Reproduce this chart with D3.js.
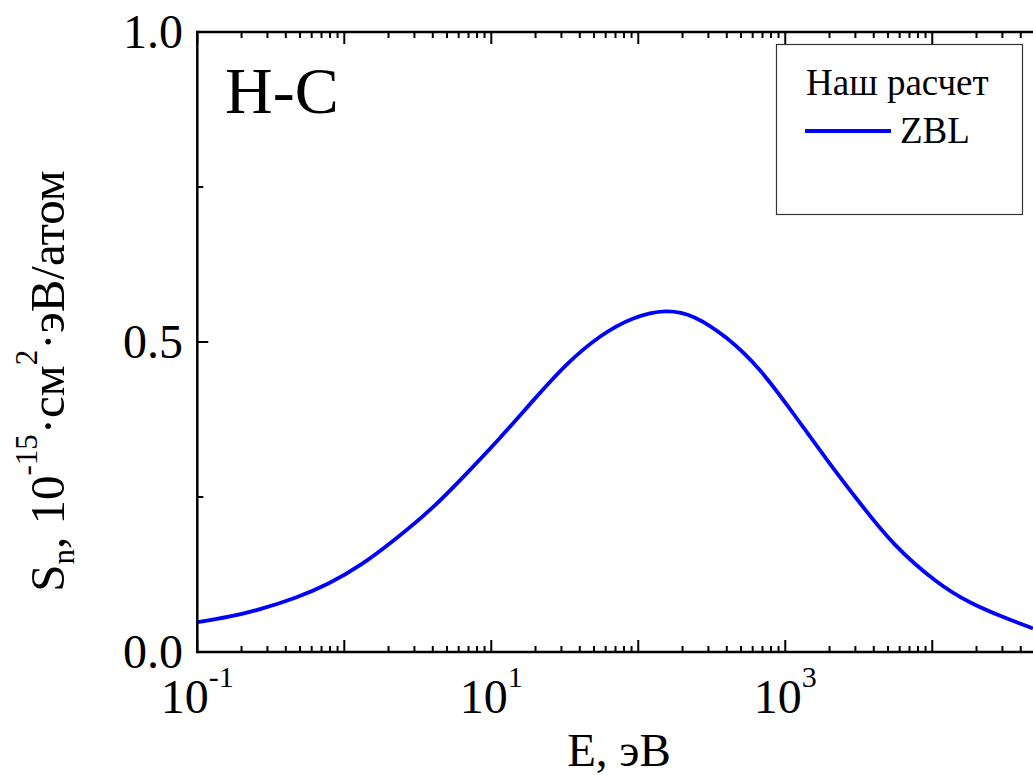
<!DOCTYPE html>
<html>
<head>
<meta charset="utf-8">
<script src="https://cdn.jsdelivr.net/npm/d3@7"></script>
<style>
  html, body { margin: 0; padding: 0; background: #fff; }
  svg { display: block; }
  text { font-family: "Liberation Serif", "Times New Roman", serif; fill: #000; }
</style>
</head>
<body>
<svg id="chart" width="1033" height="775"></svg>
<script>
// Nuclear stopping cross-section S_n(E) for H on C (ZBL potential)
const energy = [0.1, 0.163, 0.274, 0.465, 0.778, 1.31, 2.21, 4.03, 6.8, 11.5, 19.3, 32.6, 54.8, 92.5, 156, 237, 399, 673, 1133, 1912, 3220, 5430, 10720, 18040, 30400, 48400];
const sn     = [0.0480, 0.056, 0.0693, 0.0866, 0.109, 0.140, 0.181, 0.232, 0.288, 0.345, 0.406, 0.466, 0.511, 0.541, 0.553, 0.544, 0.509, 0.458, 0.385, 0.310, 0.240, 0.172, 0.111, 0.0785, 0.056, 0.038];

const xDomain = [0.1, 5e4];
const yDomain = [0, 1];
const xMajorTicks = [0.1, 1, 10, 100, 1000, 10000];
const xLabelledTicks = [{ v: 0.1, exp: "-1" }, { v: 10, exp: "1" }, { v: 1000, exp: "3" }];
const yMajorTicks = [0, 0.5, 1.0];
const yMinorTicks = [0.25, 0.75];
const yTickLabels = ["0.0", "0.5", "1.0"];

const legendTitle = "Наш расчет";
const seriesName = "ZBL";
const panelLabel = "H-C";

const svg = d3.select("#chart");
const plotL = 197.3, plotR = 1035, plotT = 32, plotB = 652;

const x = d3.scaleLog().domain(xDomain).range([plotL, plotR]);
const y = d3.scaleLinear().domain(yDomain).range([plotB, plotT]);

// minor ticks 2..9 in every decade
const xMinorTicks = [];
for (let e = -1; e <= 4; e++) {
  for (let m = 2; m <= 9; m++) {
    const v = m * Math.pow(10, e);
    if (v < xDomain[1]) xMinorTicks.push(v);
  }
}

const axisColor = "#000";
const axisW = 2.5;

// smooth curve through the sampled values
const line = d3.line()
  .x((d, i) => x(energy[i]))
  .y((d) => y(d))
  .curve(d3.curveBasis);

svg.append("path")
  .datum(sn)
  .attr("d", line)
  .attr("fill", "none")
  .attr("stroke", "#0000ff")
  .attr("stroke-width", 3.8);

// frame
const frame = svg.append("g");
frame.append("line").attr("x1", plotL).attr("x2", plotR).attr("y1", plotB).attr("y2", plotB)
  .attr("stroke", axisColor).attr("stroke-width", axisW);
frame.append("line").attr("x1", plotL).attr("x2", plotR).attr("y1", plotT).attr("y2", plotT)
  .attr("stroke", axisColor).attr("stroke-width", axisW);
frame.append("line").attr("x1", plotL).attr("x2", plotL).attr("y1", plotT - axisW / 2).attr("y2", plotB + axisW / 2)
  .attr("stroke", axisColor).attr("stroke-width", axisW);
frame.append("line").attr("x1", plotR).attr("x2", plotR).attr("y1", plotT - axisW / 2).attr("y2", plotB + axisW / 2)
  .attr("stroke", axisColor).attr("stroke-width", axisW);

// inward ticks on bottom and top
function xTicks(vals, len) {
  [plotB, plotT].forEach((y0) => {
    const dir = y0 === plotB ? -1 : 1;
    frame.selectAll(null).data(vals).enter().append("line")
      .attr("x1", (d) => x(d)).attr("x2", (d) => x(d))
      .attr("y1", y0).attr("y2", y0 + dir * len)
      .attr("stroke", axisColor).attr("stroke-width", 2);
  });
}
xTicks(xMajorTicks, 12);
xTicks(xMinorTicks, 6);

// inward ticks on left
frame.selectAll(null).data(yMajorTicks).enter().append("line")
  .attr("x1", plotL).attr("x2", plotL + 11)
  .attr("y1", (d) => y(d)).attr("y2", (d) => y(d))
  .attr("stroke", axisColor).attr("stroke-width", 2);
frame.selectAll(null).data(yMinorTicks).enter().append("line")
  .attr("x1", plotL).attr("x2", plotL + 6)
  .attr("y1", (d) => y(d)).attr("y2", (d) => y(d))
  .attr("stroke", axisColor).attr("stroke-width", 2);

// y tick labels
svg.selectAll(null).data(yMajorTicks).enter().append("text")
  .attr("x", 183)
  .attr("y", (d) => y(d) + 16)
  .attr("text-anchor", "end")
  .attr("font-size", 48)
  .text((d, i) => yTickLabels[i]);

// x tick labels (powers of ten)
const xl = svg.selectAll(null).data(xLabelledTicks).enter().append("text")
  .attr("x", (d) => x(d.v))
  .attr("y", 713)
  .attr("text-anchor", "middle")
  .attr("font-size", 48);
xl.append("tspan").text("10");
xl.append("tspan").attr("font-size", 30).attr("dy", -26).text((d) => d.exp);

// axis titles
svg.append("text")
  .attr("x", 619).attr("y", 766)
  .attr("text-anchor", "middle")
  .attr("font-size", 47)
  .text("E, эВ");

const yt = svg.append("text")
  .attr("transform", "translate(64,381) rotate(-90)")
  .attr("text-anchor", "middle")
  .attr("font-size", 49);
yt.append("tspan").text("S");
yt.append("tspan").attr("font-size", 31).attr("dy", 10).text("n");
yt.append("tspan").attr("dy", -10).text(", 10");
yt.append("tspan").attr("font-size", 31).attr("dy", -27).text("-15");
yt.append("tspan").attr("dy", 27).text("·см");
yt.append("tspan").attr("font-size", 31).attr("dy", -27).text("2");
yt.append("tspan").attr("dy", 27).text("·эВ/атом");

// panel label
svg.append("text")
  .attr("x", 225).attr("y", 113)
  .attr("font-size", 66)
  .text(panelLabel);

// legend
const lg = svg.append("g");
lg.append("rect")
  .attr("x", 776.5).attr("y", 44.5).attr("width", 246).attr("height", 170)
  .attr("fill", "#fff").attr("stroke", "#333").attr("stroke-width", 1.2);
lg.append("text")
  .attr("x", 806).attr("y", 95)
  .attr("font-size", 37)
  .text(legendTitle);
lg.append("line")
  .attr("x1", 805).attr("x2", 891).attr("y1", 131).attr("y2", 131)
  .attr("stroke", "#0000ff").attr("stroke-width", 4);
lg.append("text")
  .attr("x", 900).attr("y", 143)
  .attr("font-size", 37)
  .text(seriesName);
</script>
</body>
</html>
